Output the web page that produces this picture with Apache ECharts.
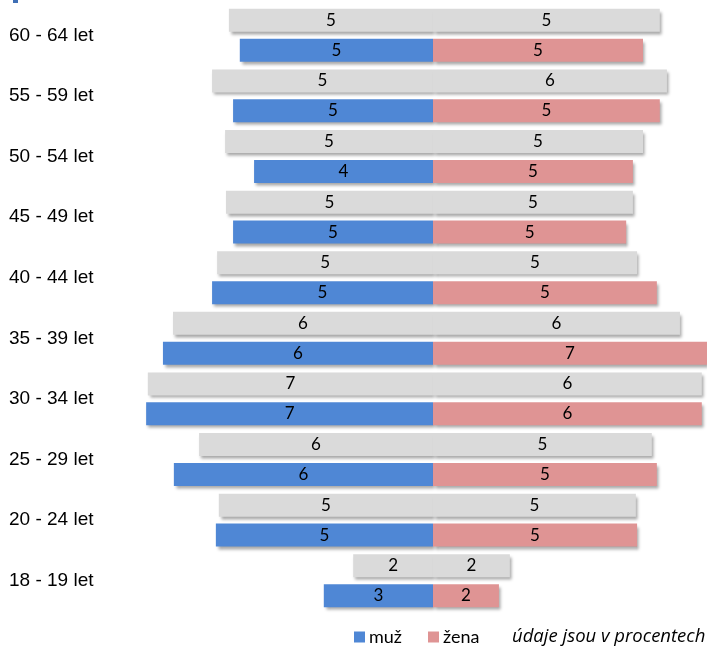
<!DOCTYPE html>
<html>
<head>
<meta charset="utf-8">
<script src="https://cdn.jsdelivr.net/npm/echarts@6/dist/echarts.min.js"></script>
<style>html,body{margin:0;padding:0;background:#fff}#c{width:707px;height:648px}</style>
</head>
<body>
<div id="c"></div>
<script>
const categories = ['60 - 64 let','55 - 59 let','50 - 54 let','45 - 49 let','40 - 44 let','35 - 39 let','30 - 34 let','25 - 29 let','20 - 24 let','18 - 19 let'];
// grey comparison bars (left = men, right = women)
const greyMen   = [4.86, 5.26, 4.95, 4.93, 5.14, 6.19, 6.79, 5.57, 5.10, 1.90];
const greyWomen = [5.40, 5.57, 5.00, 4.76, 4.86, 5.88, 6.40, 5.21, 4.83, 1.83];
// coloured bars
const muz  = [4.60, 4.76, 4.26, 4.76, 5.26, 6.43, 6.83, 6.17, 5.17, 2.60];
const zena = [5.00, 5.40, 4.76, 4.60, 5.33, 6.60, 6.40, 5.33, 4.86, 1.57];
const legendNames = ['muž','žena'];
const noteText = 'údaje jsou v procentech';

const chart = echarts.init(document.getElementById('c'), null, {renderer:'canvas'});
const shadow = {shadowColor:'rgba(0,0,0,0.35)', shadowBlur:3, shadowOffsetX:2, shadowOffsetY:3};
const lbl = {show:true, position:'inside', color:'#000', fontFamily:'Lato', fontSize:17,
  formatter: p => Math.round(Math.abs(p.value))};
function bar(name, stack, data, color){
  return {name, type:'bar', stack, data, barWidth:23, barGap:'30%',
    itemStyle:Object.assign({color}, shadow), label:lbl, emphasis:{disabled:true}, animation:false};
}
chart.setOption({
  animation:false,
  grid:{left:139, right:0, top:5, bottom:37, containLabel:false},
  xAxis:{type:'value', min:-7, max:6.524, show:false},
  yAxis:{type:'category', data:categories, inverse:true,
    axisLine:{show:false}, axisTick:{show:false}, splitLine:{show:false},
    axisLabel:{align:'left', margin:130, color:'#000', fontFamily:'Liberation Sans', fontSize:19, padding:[6,0,0,0]}},
  legend:{data:legendNames, left:354, top:628, padding:0, icon:'rect', itemWidth:11, itemHeight:11, itemGap:26,
    textStyle:{fontFamily:'Lato', fontSize:18, color:'#000', padding:[0,0,0,-1]}},
  graphic:[
    {type:'text', left:512, top:627, style:{text:noteText, font:'italic 18.5px "Open Sans"', fill:'#000'}},
    {type:'rect', shape:{x:13, y:0, width:5, height:3}, style:{fill:'#3f6fb5'}}
  ],
  series:[
    bar('muži ref', 'grey', greyMen.map(v=>-v), '#dadada'),
    bar('ženy ref', 'grey', greyWomen, '#dadada'),
    bar('muž', 'col', muz.map(v=>-v), '#4f87d5'),
    bar('žena', 'col', zena, '#df9494')
  ]
});
</script>
</body>
</html>
